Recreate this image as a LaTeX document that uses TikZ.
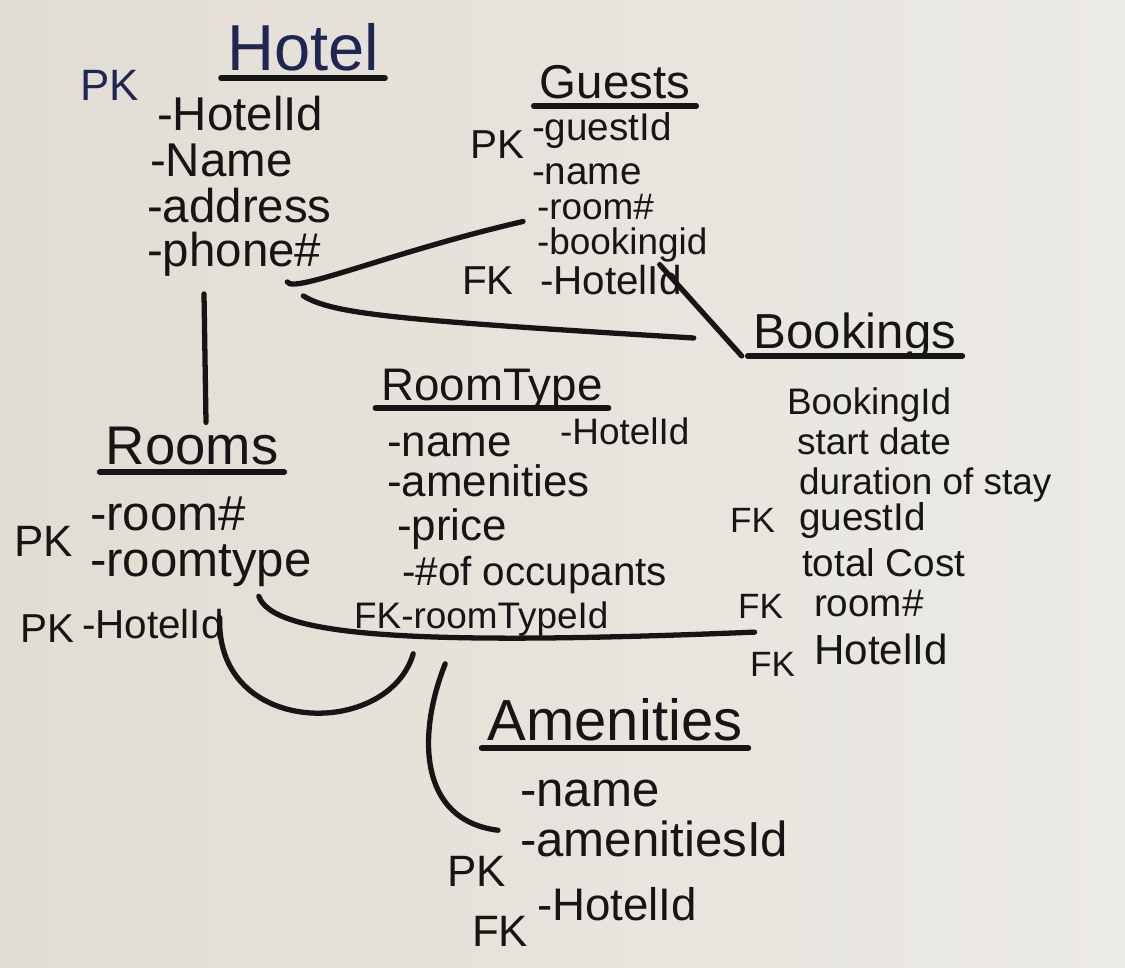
\documentclass[tikz,border=0pt]{standalone}
\usepackage{fontspec}
\setmainfont{Liberation Sans}
\usetikzlibrary{positioning,calc}

\definecolor{boardl}{RGB}{226,221,211}
\definecolor{boardr}{RGB}{236,234,230}
\definecolor{ink}{RGB}{22,20,20}
\definecolor{blueink}{RGB}{32,38,84}

\newcommand{\fs}[1]{\fontsize{#1}{#1}\selectfont}

\begin{document}
\begin{tikzpicture}[
    x=0.02cm, y=-0.02cm,
    title/.style={anchor=base, inner sep=1pt, text=ink},
    attr/.style={anchor=base west, inner sep=1pt, text=ink},
    key/.style={anchor=base west, inner sep=1pt, text=ink, font=\fs{23}},
    uline/.style={line width=3.2pt, draw=ink, line cap=round},
    link/.style={line width=3pt, draw=ink, line cap=round}
]

% Board
\shade[left color=boardl, right color=boardr] (0,0) rectangle (1125,967);

% Hotel
\node[title, text=blueink, font=\fs{37}] (htitle) at (303,70) {Hotel};
\node[key, text=blueink, font=\fs{25}] (hpk) at (78,100) {PK};
\node[attr, font=\fs{27}] (hid) at (155,130) {-HotelId};
\node[attr, font=\fs{27}] (hname) at (148,176) {-Name};
\node[attr, font=\fs{27}] (haddr) at (145,222) {-address};
\node[attr, font=\fs{27}] (hphone) at (145,266) {-phone\#};

% Guests
\node[title, font=\fs{27}] (gtitle) at (615,98) {Guests};
\node[key, font=\fs{23}] (gpk) at (468,158) {PK};
\node[attr, font=\fs{22}] (gid) at (530,140) {-guestId};
\node[attr, font=\fs{22}] (gname) at (530,184) {-name};
\node[attr, font=\fs{21}] (groom) at (535,219) {-room\#};
\node[attr, font=\fs{21}] (gbook) at (535,254) {-bookingid};
\node[key, font=\fs{23}] (gfk) at (460,294) {FK};
\node[attr, font=\fs{23}] (ghotel) at (538,294) {-HotelId};

% Bookings
\node[title, font=\fs{28}] (btitle) at (855,348) {Bookings};
\node[attr, font=\fs{21}] (bid) at (785,414) {BookingId};
\node[attr, font=\fs{21}] (bstart) at (795,454) {start date};
\node[attr, font=\fs{21}] (bdur) at (797,494) {duration of stay};
\node[key, font=\fs{20}] (bfk1) at (728,532) {FK};
\node[attr, font=\fs{22}] (bguest) at (797,530) {guestId};
\node[attr, font=\fs{22}] (bcost) at (800,576) {total Cost};
\node[key, font=\fs{20}] (bfk2) at (736,618) {FK};
\node[attr, font=\fs{22}] (broom) at (812,616) {room\#};
\node[key, font=\fs{20}] (bfk3) at (748,676) {FK};
\node[attr, font=\fs{24}] (bhotel) at (812,664) {HotelId};

% RoomType
\node[title, font=\fs{26}] (rttitle) at (492,400) {RoomType};
\node[attr, font=\fs{25}] (rtname) at (385,456) {-name};
\node[attr, font=\fs{21}] (rthotel) at (558,444) {-HotelId};
\node[attr, font=\fs{25}] (rtamen) at (385,496) {-amenities};
\node[attr, font=\fs{25}] (rtprice) at (395,540) {-price};
\node[attr, font=\fs{23}] (rtocc) at (400,585) {-\#of occupants};
\node[attr, font=\fs{21}] (rtfk) at (352,628) {FK-roomTypeId};

% Rooms
\node[title, font=\fs{31}] (rtitle) at (192,464) {Rooms};
\node[key, font=\fs{25}] (rpk1) at (12,556) {PK};
\node[attr, font=\fs{28}] (rroom) at (88,530) {-room\#};
\node[attr, font=\fs{28}] (rtype) at (88,576) {-roomtype};
\node[key, font=\fs{23}] (rpk2) at (18,642) {PK};
\node[attr, font=\fs{23}] (rhotel) at (80,638) {-HotelId};

% Amenities
\node[title, font=\fs{33}] (atitle) at (615,740) {Amenities};
\node[attr, font=\fs{28}] (aname) at (518,806) {-name};
\node[key, font=\fs{25}] (apk) at (445,886) {PK};
\node[attr, font=\fs{28}] (aid) at (518,856) {-amenitiesId};
\node[key, font=\fs{25}] (afk) at (470,946) {FK};
\node[attr, font=\fs{26}] (ahotel) at (535,920) {-HotelId};

% Underlines
\foreach \t in {htitle, gtitle, btitle, rttitle, rtitle, atitle} {
    \draw[uline] ($(\t.base west)+(-4,8)$) -- ($(\t.base east)+(4,8)$);
}

% Relations
\draw[link] ($(hphone.south east)+(-36,4)$) .. controls +(6,12) and +(-130,30) .. ($(groom.south west)+(-12,0)$);
\draw[link] ($(hphone.south east)+(-20,18)$) .. controls +(30,18) and +(-300,-18) .. ($(btitle.base west)+(-58,-10)$);
\draw[link] ($(ghotel.north east)+(-24,2)$) -- ($(btitle.base west)+(-10,8)$);
\draw[link] ($(rtitle.north)+(14,-2)$) -- ($(rtitle.north |- hphone.south)+(12,16)$);
\draw[link] ($(rtype.south)+(58,8)$) .. controls +(14,40) and +(-340,14) .. ($(bfk2.south)+(-6,12)$);
\draw[link] ($(rhotel.east)+(-6,-6)$) .. controls +(-4,120) and +(-25,85) .. ($(rtfk.south)+(-68,16)$);
\draw[link] ($(rtfk.south)+(-36,26)$) .. controls +(-28,70) and +(-80,-10) .. ($(aid.north west)+(-20,12)$);

\end{tikzpicture}
\end{document}
